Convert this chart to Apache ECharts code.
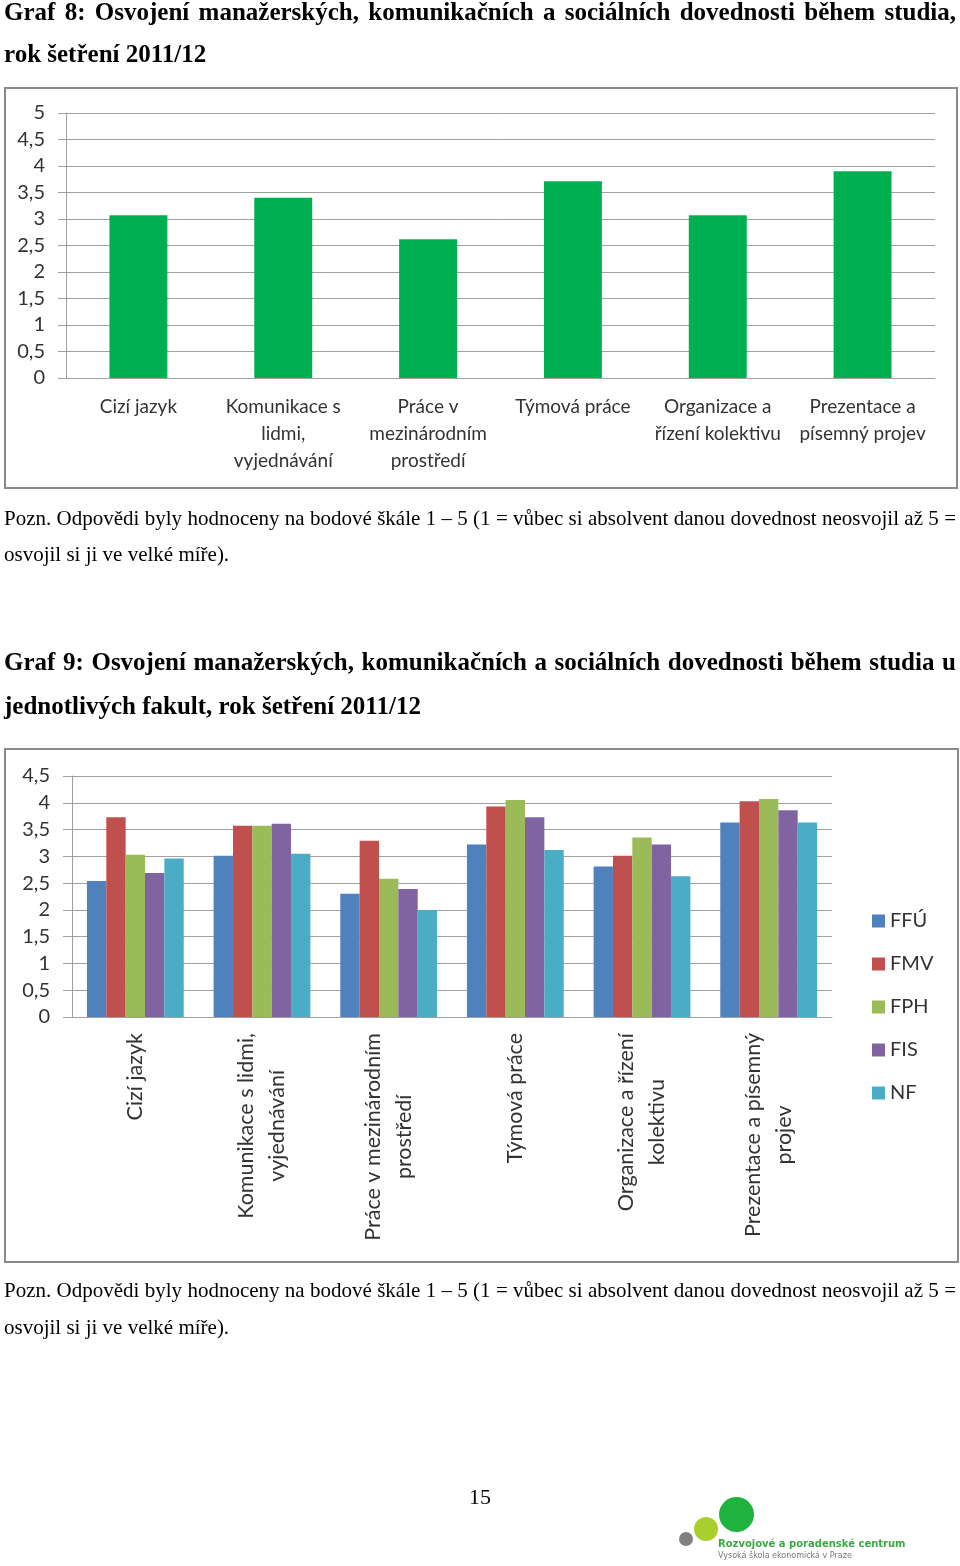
<!DOCTYPE html>
<html>
<head>
<meta charset="utf-8">
<script src="https://cdn.jsdelivr.net/npm/echarts@6/dist/echarts.min.js"></script>
<style>
  html, body { margin: 0; padding: 0; background: #fff; }
  body { width: 960px; height: 1566px; position: relative; overflow: hidden; }
  #chart { position: absolute; left: 0; top: 0; width: 960px; height: 1566px; }
  .ln { position: absolute; left: 4px; width: 952px; font-family: "Liberation Serif", "Times New Roman", serif; color: #000; white-space: nowrap; }
  .t { font-weight: bold; font-size: 25px; line-height: 25px; }
  .p { font-size: 21px; line-height: 21px; }
  .j { text-align: justify; text-align-last: justify; white-space: normal; }
  .logo-c { position: absolute; border-radius: 50%; }
</style>
</head>
<body>
<div id="chart"></div>

<div class="ln t j" style="top:-1px">Graf 8: Osvojení manažerských, komunikačních a sociálních dovednosti během studia,</div>
<div class="ln t" style="top:41px">rok šetření 2011/12</div>
<div class="ln p j" style="top:508px">Pozn. Odpovědi byly hodnoceny na bodové škále 1 – 5 (1 = vůbec si absolvent danou dovednost neosvojil až 5 =</div>
<div class="ln p" style="top:544px">osvojil si ji ve velké míře).</div>

<div class="ln t j" style="top:649px">Graf 9: Osvojení manažerských, komunikačních a sociálních dovednosti během studia u</div>
<div class="ln t" style="top:693px">jednotlivých fakult, rok šetření 2011/12</div>
<div class="ln p j" style="top:1280px">Pozn. Odpovědi byly hodnoceny na bodové škále 1 – 5 (1 = vůbec si absolvent danou dovednost neosvojil až 5 =</div>
<div class="ln p" style="top:1317px">osvojil si ji ve velké míře).</div>

<div class="ln" style="top:1486px; left:0; width:960px; text-align:center; font-size:22px; line-height:22px;">15</div>

<div class="logo-c" style="left:679px; top:1532px; width:14px; height:14px; background:#808080;"></div>
<div class="logo-c" style="left:694px; top:1517px; width:24px; height:24px; background:#a9cf2c;"></div>
<div class="logo-c" style="left:719px; top:1497px; width:35px; height:35px; background:#1fb23c;"></div>
<div style="position:absolute; left:718px; top:1538px; font-family:'DejaVu Sans',sans-serif; font-weight:bold; font-size:10px; color:#3aa845; white-space:nowrap;">Rozvojové a poradenské centrum</div>
<div style="position:absolute; left:718px; top:1551px; font-family:'DejaVu Sans',sans-serif; font-size:8px; color:#777; white-space:nowrap;">Vysoká škola ekonomická v Praze</div>

<script>
// ---- data ----
const categories1 = ['Cizí jazyk', 'Komunikace s\nlidmi,\nvyjednávání', 'Práce v\nmezinárodním\nprostředí', 'Týmová práce', 'Organizace a\nřízení kolektivu', 'Prezentace a\npísemný projev'];
const values1 = [3.07, 3.40, 2.62, 3.71, 3.07, 3.90];

const categories2 = ['Cizí jazyk', 'Komunikace s lidmi,\nvyjednávání', 'Práce v mezinárodním\nprostředí', 'Týmová práce', 'Organizace a řízení\nkolektivu', 'Prezentace a písemný\nprojev'];
const faculties = ['FFÚ', 'FMV', 'FPH', 'FIS', 'NF'];
const FFU = [2.54, 3.01, 2.30, 3.22, 2.81, 3.63];
const FMV = [3.73, 3.57, 3.29, 3.93, 3.01, 4.03];
const FPH = [3.03, 3.57, 2.58, 4.05, 3.35, 4.07];
const FIS = [2.69, 3.61, 2.39, 3.73, 3.22, 3.86];
const NF  = [2.96, 3.05, 2.00, 3.12, 2.63, 3.63];
const facultyValues = [FFU, FMV, FPH, FIS, NF];
const facultyColors = ['#4f81bd', '#c0504d', '#9bbb59', '#8064a2', '#4bacc6'];

// ---- chart ----
const FONT = 'Lato, "Open Sans", sans-serif';
const TXT = '#333333';
const GRID_C = '#a0a0a0';
const fmt = v => String(v).replace('.', ',');

const chart = echarts.init(document.getElementById('chart'), null, { renderer: 'canvas' });

const option = {
  animation: false,
  backgroundColor: '#ffffff',
  textStyle: { fontFamily: FONT },
  graphic: [
    { type: 'rect', shape: { x: 5, y: 88, width: 952, height: 400 }, style: { fill: 'none', stroke: '#8a8a8a', lineWidth: 2 } },
    { type: 'rect', shape: { x: 5, y: 749, width: 953, height: 513 }, style: { fill: 'none', stroke: '#8a8a8a', lineWidth: 2 } }
  ],
  legend: {
    data: faculties,
    orient: 'vertical',
    left: 867,
    top: 906,
    icon: 'rect',
    itemWidth: 13,
    itemHeight: 13,
    itemGap: 23,
    textStyle: { fontFamily: FONT, fontSize: 20, color: TXT, lineHeight: 20 }
  },
  grid: [
    { left: 66, top: 113, width: 869, height: 265, containLabel: false },
    { left: 72, top: 776, width: 760, height: 241, containLabel: false }
  ],
  xAxis: [
    {
      gridIndex: 0, type: 'category', data: categories1,
      axisLine: { lineStyle: { color: GRID_C, width: 1 } },
      axisTick: { alignWithLabel: false, length: 7, lineStyle: { color: GRID_C } },
      axisLabel: { interval: 0, margin: 15, fontFamily: FONT, fontSize: 19, lineHeight: 27, color: TXT }
    },
    {
      gridIndex: 1, type: 'category', data: categories2,
      axisLine: { lineStyle: { color: GRID_C, width: 1 } },
      axisTick: { length: 7, lineStyle: { color: GRID_C } },
      axisLabel: {
        interval: 0, margin: 16, rotate: 90, color: TXT,
        formatter: v => v.split('\n').map(s => '{c|' + s + '}').join('\n'),
        rich: { c: { align: 'center', fontFamily: FONT, fontSize: 21.5, lineHeight: 31, color: TXT } }
      }
    }
  ],
  yAxis: [
    {
      gridIndex: 0, type: 'value', min: 0, max: 5, interval: 0.5,
      axisLine: { show: true, lineStyle: { color: GRID_C } },
      axisTick: { show: true, length: 8, lineStyle: { color: GRID_C } },
      splitLine: { lineStyle: { color: GRID_C, width: 1 } },
      axisLabel: { margin: 21, formatter: fmt, fontFamily: FONT, fontSize: 20, color: TXT }
    },
    {
      gridIndex: 1, type: 'value', min: 0, max: 4.5, interval: 0.5,
      axisLine: { show: true, lineStyle: { color: GRID_C } },
      axisTick: { show: true, length: 9, lineStyle: { color: GRID_C } },
      splitLine: { lineStyle: { color: GRID_C, width: 1 } },
      axisLabel: { margin: 22, formatter: fmt, fontFamily: FONT, fontSize: 20, color: TXT }
    }
  ],
  series: [
    {
      type: 'bar', xAxisIndex: 0, yAxisIndex: 0, data: values1,
      barCategoryGap: '60%', itemStyle: { color: '#00b050' }
    }
  ].concat(faculties.map((name, i) => ({
    type: 'bar', name: name, xAxisIndex: 1, yAxisIndex: 1,
    data: facultyValues[i], barGap: '0%', barCategoryGap: '23.6%',
    itemStyle: { color: facultyColors[i] }
  })))
};

chart.setOption(option);
</script>
</body>
</html>
